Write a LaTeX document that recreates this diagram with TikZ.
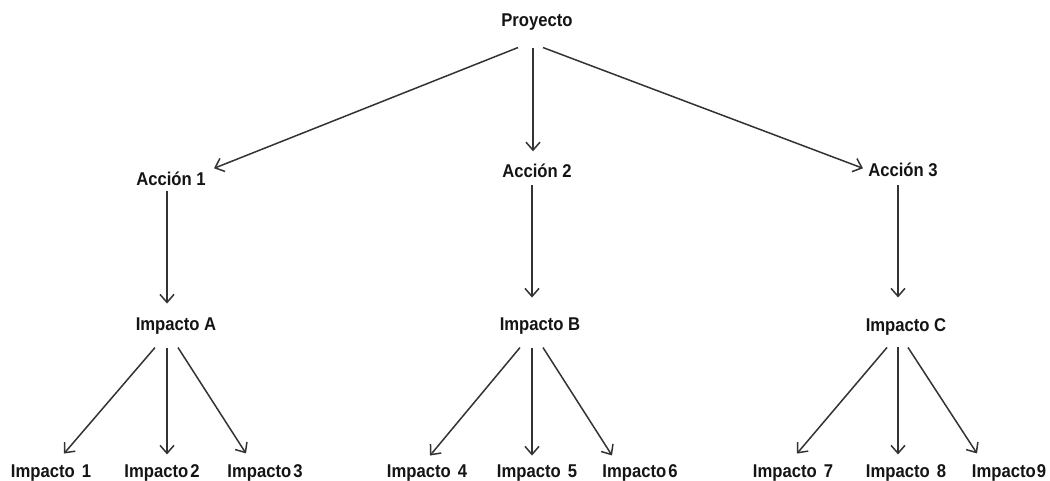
\documentclass[tikz,border=0pt]{standalone}
\usepackage{fontspec}
\setmainfont{Liberation Sans}[FakeStretch=0.9]
\usetikzlibrary{arrows.meta,calc}
\begin{document}
\begin{tikzpicture}[x=1pt,y=-1pt,
  lbl/.style={anchor=base,inner sep=0pt,text=black!92,font=\fontsize{18.5}{20}\selectfont\bfseries},
  arr/.style={draw=black!80,line width=1.5pt,-{Straight Barb[length=8pt,width=14pt,line width=1.5pt]}}]
\useasboundingbox (0,0) rectangle (1050,481);
% nodes
\node[lbl] (P) at (537,27) {Proyecto};
\node[lbl] (A1) at (171,186) {Acción 1};
\node[lbl] (A2) at (537,178) {Acción 2};
\node[lbl] (A3) at (903,177) {Acción 3};
\node[lbl] (IA) at (176,330) {Impacto A};
\node[lbl] (IB) at (540,330) {Impacto B};
\node[lbl] (IC) at (906,331) {Impacto C};
\node[lbl] (I1) at (51,477) {Impacto\hspace{7pt}1};
\node[lbl] (I2) at (162,477) {Impacto\hspace{2pt}2};
\node[lbl] (I3) at (265,477) {Impacto\hspace{2pt}3};
\node[lbl] (I4) at (427,477) {Impacto\hspace{7pt}4};
\node[lbl] (I5) at (537,477) {Impacto\hspace{7pt}5};
\node[lbl] (I6) at (640,477) {Impacto\hspace{2pt}6};
\node[lbl] (I7) at (793,477) {Impacto\hspace{7pt}7};
\node[lbl] (I8) at (906,477) {Impacto\hspace{7pt}8};
\node[lbl] (I9) at (1009,477) {Impacto\hspace{1pt}9};
% connectors
\draw[arr] ($(P)+(-19,25)$) -- ($(A1)+(43,-11)$);
\draw[arr] ($(P)+(-4,25)$) -- ($(A2)+(-4,-20)$);
\draw[arr] ($(P)+(6,25)$) -- ($(A3)+(-40,-2)$);
\draw[arr] ($(A1)+(-4,12)$) -- ($(IA)+(-9,-22)$);
\draw[arr] ($(A2)+(-5,14)$) -- ($(IB)+(-8,-28)$);
\draw[arr] ($(A3)+(-5,15)$) -- ($(IC)+(-8,-29)$);
\draw[arr] ($(IA)+(-21,22)$) -- ($(I1)+(13,-19)$);
\draw[arr] ($(IA)+(-9,22)$) -- ($(I2)+(5,-18)$);
\draw[arr] ($(IA)+(2,22)$) -- ($(I3)+(-19,-19)$);
\draw[arr] ($(IB)+(-20,22)$) -- ($(I4)+(3,-17)$);
\draw[arr] ($(IB)+(-8,22)$) -- ($(I5)+(-5,-17)$);
\draw[arr] ($(IB)+(3,22)$) -- ($(I6)+(-28,-17)$);
\draw[arr] ($(IC)+(-19,21)$) -- ($(I7)+(4,-19)$);
\draw[arr] ($(IC)+(-8,21)$) -- ($(I8)+(-8,-18)$);
\draw[arr] ($(IC)+(2,21)$) -- ($(I9)+(-32,-19)$);
\end{tikzpicture}
\end{document}
